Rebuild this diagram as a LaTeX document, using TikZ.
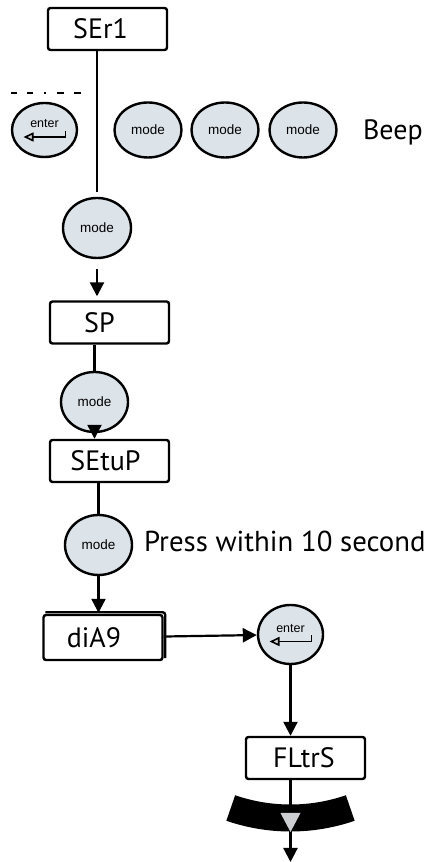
\documentclass[tikz,border=0pt]{standalone}
\usepackage{fontspec}
\setmainfont{PT Sans}
\newfontfamily\keyfont{Liberation Sans}
\usepackage{tikz}
\usetikzlibrary{arrows.meta,positioning,shapes.geometric,calc}
\definecolor{keyblue}{HTML}{DCE3E9}
\definecolor{markgray}{HTML}{CCCED1}

\begin{document}
\begin{tikzpicture}[x=1pt,y=1pt,line width=2.2pt,>={Triangle[length=14pt,width=14pt]},
  dispbox/.style={draw,line width=2.4pt,rounded corners=2.5pt,minimum width=119pt,minimum height=42pt,inner sep=0pt},
  disptext/.style={font=\fontsize{28}{31}\selectfont,inner sep=0pt},
  keybtn/.style={ellipse,draw,line width=2.4pt,fill=keyblue,minimum width=67pt,minimum height=58pt,inner sep=0pt,font=\keyfont\fontsize{13.5}{15}\selectfont},
  keytext/.style={font=\keyfont\fontsize{12.5}{14}\selectfont,inner sep=0pt}]
  \useasboundingbox (0,0) rectangle (426,862);
  \node[dispbox] (ser1) at (107.5,833) {};
  \node[dispbox] (sp) at (109.5,539.5) {};
  \node[dispbox] (setup) at (109.5,401) {};
  \node[dispbox,minimum height=45pt] (dia9) at (103,224.5) {};
  \node[dispbox] (fltrs) at (305.5,104) {};
  \node[disptext] (ser1t) at ([xshift=-7pt]ser1.center) {SEr1};
  \node[disptext] (spt) at ([xshift=-10pt]sp.center) {SP};
  \node[disptext] (setupt) at ([xshift=-4pt]setup.center) {SEtuP};
  \node[disptext] (dia9t) at ([xshift=-9pt]dia9.center) {diA9};
  \node[disptext] (fltrst) at ([xshift=-1.5pt]fltrs.center) {FLtrS};
  \draw[line width=2.4pt,rounded corners=2.5pt] ([shift={(3pt,1.5pt)}]dia9.north west) -- ([shift={(1.5pt,1.5pt)}]dia9.north east) -- ([shift={(1.5pt,3pt)}]dia9.south east);
  \coordinate (dashL) at (11,769);
  \coordinate (dashR) at (82,769);
  \draw[line width=1.6pt,dash pattern=on 6pt off 10pt on 6pt off 11pt on 2pt off 11pt on 7pt off 10pt on 7pt] (dashL) -- (dashR);
  \node[keybtn,minimum width=65pt,minimum height=54pt] (enter1) at (44.5,732) {};
  \foreach \n/\x in {1/148,2/225,3/303}
    \node[keybtn,minimum height=55pt] (moderow\n) at (\x,732) {mode};
  \node[disptext,anchor=base west] (beep) at (362,722) {Beep};
  \node[keybtn,minimum width=68pt,minimum height=60pt] (modeA) at (97,634) {mode};
  \node[keybtn,minimum height=60pt] (modeB) at (94.5,460) {mode};
  \node[keybtn,minimum height=60pt] (modeC) at (98.5,317) {mode};
  \node[disptext,anchor=base west,font=\fontsize{28.8}{32}\selectfont] (press) at (143,310) {Press within 10 second};
  \node[keybtn,minimum width=65pt,minimum height=59pt] (enter2) at (290.5,227.5) {};
  \foreach \k in {enter1,enter2} {
    \node[keytext] (\k-txt) at ([yshift=6pt]\k.center) {enter};
    \draw[line width=1.6pt,-{Triangle[length=10pt,width=9pt,fill=markgray]}]
      ([shift={(21,-1)}]\k.center) -- ++(0,-6) -- ++(-42,0);
  }
  \coordinate (flout) at (290.5,0);
  \draw[shorten >=5pt] (ser1.south -| modeA) -- (modeA);
  \draw[->,shorten <=10pt,shorten >=4pt] (modeA) -- (modeA |- sp.north);
  \draw (sp.south -| modeB) -- (modeB);
  \draw[->] (modeB) -- (modeB |- setup.north);
  \draw (setup.south -| modeC) -- (modeC);
  \draw[->,shorten >=1pt] (modeC) -- (modeC |- dia9.north);
  \draw[->] (dia9) -- (enter2);
  \draw[->] (enter2) -- (enter2 |- fltrs.north);
  \draw[->] (fltrs.south -| flout) -- (flout);
  \fill ([shift={(251:170)}]enter2.center) arc[start angle=251,end angle=289,radius=170]
    -- ([shift={(289:197)}]enter2.center) arc[start angle=289,end angle=251,radius=197] -- cycle;
  \fill[markgray] ([shift={(-10,49)}]flout) -- ([shift={(10,49)}]flout) -- ([shift={(0,30)}]flout) -- cycle;
\end{tikzpicture}
\end{document}
